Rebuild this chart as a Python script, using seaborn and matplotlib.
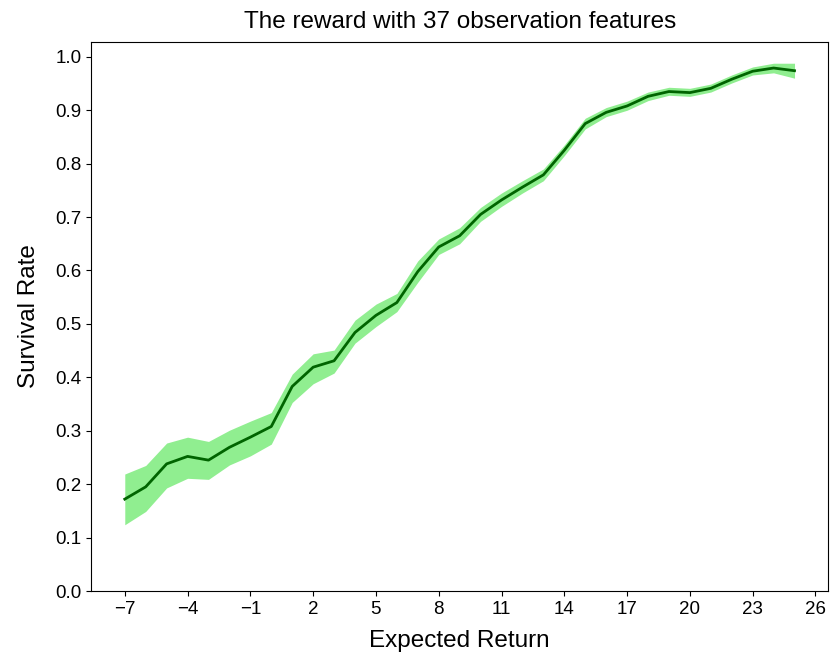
import matplotlib
matplotlib.use("Agg")
import matplotlib.pyplot as plt
import seaborn as sns
import numpy as np
import pandas as pd

expected_return = list(range(-7, 26))
survival_mean = [0.172, 0.195, 0.238, 0.252, 0.245, 0.269, 0.288, 0.308, 0.383, 0.419,
                 0.431, 0.484, 0.516, 0.540, 0.598, 0.644, 0.665, 0.705, 0.732, 0.756,
                 0.779, 0.825, 0.875, 0.896, 0.908, 0.926, 0.935, 0.933, 0.941, 0.958,
                 0.973, 0.979, 0.974]
survival_upper = [0.219, 0.235, 0.277, 0.288, 0.280, 0.301, 0.318, 0.334, 0.406, 0.444,
                  0.451, 0.507, 0.537, 0.557, 0.618, 0.659, 0.680, 0.718, 0.745, 0.768,
                  0.790, 0.835, 0.885, 0.905, 0.917, 0.934, 0.943, 0.941, 0.949, 0.966,
                  0.981, 0.988, 0.988]
survival_lower = [0.124, 0.149, 0.193, 0.211, 0.209, 0.236, 0.253, 0.275, 0.353, 0.388,
                  0.408, 0.464, 0.495, 0.523, 0.578, 0.630, 0.650, 0.692, 0.720, 0.745,
                  0.768, 0.815, 0.865, 0.888, 0.900, 0.918, 0.928, 0.926, 0.934, 0.951,
                  0.966, 0.970, 0.960]
x_ticks = list(range(-7, 27, 3))
y_ticks = [round(0.1 * i, 1) for i in range(11)]

plt.rcParams['font.family'] = ['Liberation Sans', 'DejaVu Sans']

df = pd.DataFrame({"Expected Return": expected_return, "Survival Rate": survival_mean})

fig = plt.figure(figsize=(8.3, 6.54), dpi=100)
ax = fig.add_axes([0.110, 0.0963, 0.8876, 0.8397])
ax.fill_between(expected_return, survival_lower, survival_upper, color="#90ee90", linewidth=0)
sns.lineplot(data=df, x="Expected Return", y="Survival Rate", color="#006400", linewidth=2, ax=ax)

ax.set_xticks(x_ticks)
ax.set_yticks(y_ticks)
ax.set_ylim(0, 1.028)
ax.set_xlim(-8.6, 26.6)
ax.tick_params(labelsize=13.5)
ax.set_xlabel("Expected Return", fontsize=17.5, labelpad=9)
ax.set_ylabel("Survival Rate", fontsize=17.5, labelpad=11)
ax.set_title("The reward with 37 observation features", fontsize=17.5, pad=10)

fig.savefig("out.png", dpi=100)
